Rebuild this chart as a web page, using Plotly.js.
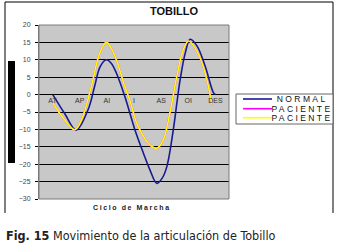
<!DOCTYPE html>
<html>
<head>
<meta charset="utf-8">
<script src="https://cdn.plot.ly/plotly-3.0.1.min.js"></script>
<style>
html,body{margin:0;padding:0;background:#fff;}
#chart{width:340px;height:243px;}
#chart g.annotation[data-index="0"] text{letter-spacing:1.6px;}
#chart g.annotation[data-index="2"] text,
#chart g.annotation[data-index="3"] text,
#chart g.annotation[data-index="4"] text{letter-spacing:2.4px;}
</style>
</head>
<body>
<div id="chart"></div>
<script>
// Categories of the gait cycle
var categories = ["AT", "AP", "AI", "I", "AS", "OI", "DES"];
var categoryIndex = [0, 1, 2, 3, 4, 5, 6];
var yTicks = [20, 15, 10, 5, 0, -5, -10, -15, -20, -25, -30];

// NORMAL (positions along the cycle in category units, angle in degrees)
var normalX = [0.01, 0.45, 0.87, 1.31, 1.55, 1.75, 1.98, 2.16, 2.35, 2.66, 3.03, 3.35, 3.59, 3.84, 4.04, 4.21, 4.45, 4.58, 4.70, 4.89, 5.07, 5.32, 5.62, 5.93, 6.0];
var normalY = [0, -5.5, -10.2, -4.3, 2.4, 8, 10, 9, 6.2, -0.5, -10, -16.9, -21.7, -25.5, -24, -20.7, -10, -2.4, 4.3, 12, 15.9, 14, 8.2, 0.5, 0];

// PACIENTE (magenta, lies under the yellow one)
var paciente1X = [0.01, 0.42, 0.82, 1.08, 1.43, 1.74, 1.98, 2.15, 2.35, 2.66, 2.86, 3.10, 3.35, 3.59, 3.84, 4.08, 4.32, 4.58, 4.82, 5.01, 5.32, 5.62, 5.87];
var paciente1Y = [-2.4, -7, -10.1, -7, 2.4, 12, 15, 13.5, 10, 2.4, -2, -8.2, -12, -14.5, -15.4, -13, -5.3, 5.3, 13, 15.4, 12.5, 6.3, -2.9];

// PACIENTE (yellow)
var paciente2X = [0.01, 0.42, 0.82, 1.08, 1.43, 1.74, 1.98, 2.15, 2.35, 2.66, 2.86, 3.10, 3.35, 3.59, 3.84, 4.08, 4.32, 4.58, 4.82, 5.01, 5.32, 5.62, 5.87];
var paciente2Y = [-2.4, -7, -10.1, -7, 2.4, 12, 15, 13.5, 10, 2.4, -2, -8.2, -12, -14.5, -15.4, -13, -5.3, 5.3, 13, 15.4, 12.5, 6.3, -2.9];

var seriesNames = ["NORMAL", "PACIENTE", "PACIENTE"];
var seriesColors = ["#1a1a90", "#ff00ff", "#ffff00"];

var traces = [
  {x: normalX, y: normalY, name: seriesNames[0], type: "scatter", mode: "lines",
   line: {color: seriesColors[0], width: 1.6, shape: "spline", smoothing: 1}},
  {x: paciente1X, y: paciente1Y, name: seriesNames[1], type: "scatter", mode: "lines",
   line: {color: seriesColors[1], width: 1.6, shape: "spline", smoothing: 1}},
  {x: paciente2X, y: paciente2Y, name: seriesNames[2], type: "scatter", mode: "lines",
   line: {color: seriesColors[2], width: 1.6, shape: "spline", smoothing: 1}}
];

var font = "Arial, 'Liberation Sans', sans-serif";

// paper-coordinate helpers (plot area: x 39..229 px, y 25..199 px)
function px(p) { return (p - 39) / 190; }
function py(p) { return (199 - p) / 174; }

var annotations = [
  {text: "<b>Ciclo de Marcha</b>", xref: "paper", yref: "paper", x: px(132), y: py(207),
   xanchor: "center", yanchor: "middle", showarrow: false,
   font: {family: font, size: 7, color: "#222"}},
  {text: "<b>Fig. 15</b> Movimiento de la articulación de Tobillo", xref: "paper", yref: "paper",
   x: px(4), y: py(235), xanchor: "left", yanchor: "middle", showarrow: false,
   font: {family: "'Liberation Sans Narrow', 'DejaVu Sans Condensed', sans-serif", size: 12.5, color: "#222"}}
];
var shapes = [
  // outer frame (top, left, right)
  {type: "line", xref: "paper", yref: "paper", x0: px(5), x1: px(333), y0: py(2), y1: py(2), line: {color: "#000", width: 1}},
  {type: "line", xref: "paper", yref: "paper", x0: px(5), x1: px(5), y0: py(2), y1: py(213), line: {color: "#000", width: 1}},
  {type: "line", xref: "paper", yref: "paper", x0: px(333), x1: px(333), y0: py(2), y1: py(213), line: {color: "#000", width: 1}},
  // black bar on the left
  {type: "rect", xref: "paper", yref: "paper", x0: px(8), x1: px(15), y0: py(163), y1: py(61), fillcolor: "#000", line: {width: 0}},
  // plot area border
  {type: "rect", xref: "paper", yref: "paper", x0: 0, x1: 1, y0: 0, y1: 1, line: {color: "#7a7a7a", width: 1}},
  // legend box
  {type: "rect", xref: "paper", yref: "paper", x0: px(236), x1: px(333), y0: py(124), y1: py(94),
   fillcolor: "#fff", line: {color: "#666", width: 1}}
];
var legendRows = [99, 108.7, 117.7];
for (var i = 0; i < seriesNames.length; i++) {
  shapes.push({type: "line", xref: "paper", yref: "paper", x0: px(243), x1: px(272),
               y0: py(legendRows[i]), y1: py(legendRows[i]), line: {color: seriesColors[i], width: 1.6}});
  annotations.push({text: seriesNames[i], xref: "paper", yref: "paper", x: px(302), y: py(legendRows[i]),
                    xanchor: "center", yanchor: "middle", showarrow: false,
                    font: {family: font, size: 8.5, color: "#111"}});
}

var layout = {
  width: 340, height: 243,
  margin: {l: 39, r: 111, t: 25, b: 44, pad: 0},
  paper_bgcolor: "#ffffff",
  plot_bgcolor: "#c8c8c8",
  showlegend: false,
  title: {text: "<b>TOBILLO</b>", x: 0.512, xanchor: "center", y: 1 - 11/243, yanchor: "middle",
          font: {family: font, size: 11, color: "#111"}},
  xaxis: {
    range: [-0.5, 6.5], tickmode: "array", tickvals: categoryIndex, ticktext: categories,
    anchor: "free", position: 0.6, showgrid: false, zeroline: false, showline: false,
    ticks: "", tickfont: {family: font, size: 7, color: "#333"}, fixedrange: true
  },
  yaxis: {
    range: [-30, 20], tickmode: "array", tickvals: yTicks,
    showgrid: true, gridcolor: "#000000", gridwidth: 1,
    zeroline: true, zerolinecolor: "#000000", zerolinewidth: 1,
    showline: true, linecolor: "#7a7a7a", linewidth: 1,
    ticks: "outside", ticklen: 3, tickcolor: "#000", ticklabelstandoff: 3,
    tickfont: {family: font, size: 7, color: "#444"}, fixedrange: true
  },
  annotations: annotations,
  shapes: shapes
};

Plotly.newPlot("chart", traces, layout, {staticPlot: true, displayModeBar: false});
</script>
</body>
</html>
